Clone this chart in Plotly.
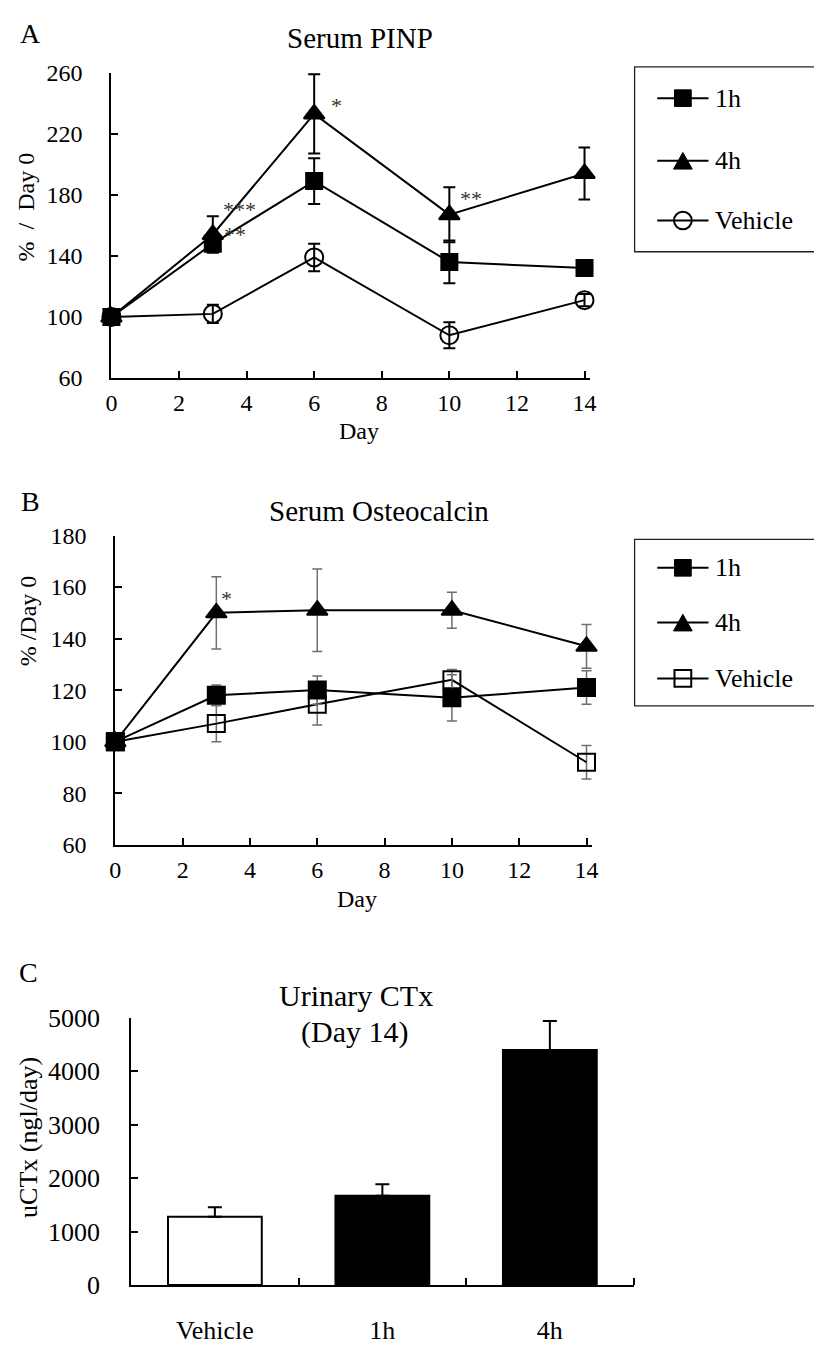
import plotly.graph_objects as go

W, H = 814, 1347
FONT = "Liberation Serif, Times New Roman, serif"

# ---- Panel A: serum PINP (% of day 0) ----
days = [0, 3, 6, 10, 14]
pinp_1h = [100, 148, 189, 136, 132]
pinp_1h_err = [0, 5, 15, 14, 3]
pinp_4h = [100, 154, 233, 167, 194]
pinp_4h_err = [0, 12, 26, 18, 17]
pinp_veh = [100, 102, 139, 88, 111]
pinp_veh_err = [0, 6, 9, 8.5, 4]

# ---- Panel B: serum osteocalcin (% of day 0) ----
oc_1h = [100, 118, 120, 117, 121]
oc_1h_err = [0, 4, 5.5, 9, 6.5]
oc_4h = [100, 150, 151, 151, 137]
oc_4h_err = [0, 14, 16, 7, 8.5]
oc_veh = [100, 107, 114.5, 124, 92]
oc_veh_err = [0, 7, 8, 4, 6.5]

# ---- Panel C: urinary CTx at day 14 ----
groups = ["Vehicle", "1h", "4h"]
uctx = [1280, 1670, 4400]
uctx_err = [175, 215, 540]

a_ticks = [60, 100, 140, 180, 220, 260]
b_ticks = [60, 80, 100, 120, 140, 160, 180]
c_ticks = [0, 1000, 2000, 3000, 4000, 5000]
day_ticks = [0, 2, 4, 6, 8, 10, 12, 14]


def px(x):
    return x / W


def py(y):
    return 1 - y / H


fig = go.Figure()


def line_trace(x, y, err, symbol, size, xa, ya, err_color, err_thick, err_w):
    return go.Scatter(
        x=x, y=y, mode="lines+markers", xaxis=xa, yaxis=ya,
        line=dict(color="black", width=2),
        marker=dict(symbol=symbol, size=size, color="black",
                    line=dict(color="black", width=2)),
        error_y=dict(type="data", array=err, visible=True, color=err_color,
                     thickness=err_thick, width=err_w),
        cliponaxis=False, showlegend=False,
    )


# Panel A series
fig.add_trace(line_trace(days, pinp_veh, pinp_veh_err, "circle-open", 18, "x", "y", "black", 2, 6))
fig.add_trace(line_trace(days, pinp_1h, pinp_1h_err, "square", 16, "x", "y", "black", 2, 6))
fig.add_trace(line_trace(days, pinp_4h, pinp_4h_err, "triangle-up", 18, "x", "y", "black", 2, 6))

# Panel B series
fig.add_trace(line_trace(days, oc_veh, oc_veh_err, "square-open", 17, "x2", "y2", "#6e6e6e", 1.5, 5))
fig.add_trace(line_trace(days, oc_1h, oc_1h_err, "square", 17, "x2", "y2", "#6e6e6e", 1.5, 5))
fig.add_trace(line_trace(days, oc_4h, oc_4h_err, "triangle-up", 18, "x2", "y2", "#6e6e6e", 1.5, 5))

# Panel C bars (positions by group index, labelled with the group names)
group_pos = list(range(len(groups)))
fig.add_trace(go.Bar(
    x=group_pos, y=uctx, xaxis="x3", yaxis="y3", width=0.56,
    marker=dict(color=["white", "black", "black"], line=dict(color="black", width=2)),
    error_y=dict(type="data", array=uctx_err, arrayminus=[0, 0, 0], symmetric=False,
                 color="black", thickness=2, width=7),
    showlegend=False,
))

axis_common = dict(
    showline=True, linecolor="black", linewidth=2, ticks="inside", ticklen=7,
    tickwidth=2, tickcolor="black", showgrid=False, zeroline=False,
    tickfont=dict(family=FONT, size=24, color="black"),
)
font_c = dict(family=FONT, size=26, color="black")
axis_c = {**axis_common, "tickfont": font_c}
axis_c_x = {**axis_c, "ticks": ""}

fig.update_layout(
    width=W, height=H, margin=dict(l=0, r=0, t=0, b=0),
    paper_bgcolor="white", plot_bgcolor="white",
    font=dict(family=FONT, color="black"),
    xaxis=dict(domain=[px(107), px(593)], range=[0, 14.17], tickvals=day_ticks,
               anchor="y", ticklabelstandoff=2, **axis_common),
    yaxis=dict(domain=[py(372), py(60)], range=[60, 260], tickvals=a_ticks,
               anchor="x", ticklabelstandoff=22, **axis_common),
    xaxis2=dict(domain=[px(111), px(595)], range=[0, 14.17], tickvals=day_ticks,
                anchor="y2", ticklabelstandoff=2, **axis_common),
    yaxis2=dict(domain=[py(849), py(533)], range=[60, 180], tickvals=b_ticks,
                anchor="x2", ticklabelstandoff=22, **axis_common),
    xaxis3=dict(domain=[px(127), px(637)], range=[-0.5, 2.5],
                tickvals=group_pos, ticktext=groups, anchor="y3",
                ticklabelstandoff=21,
                minor=dict(tickvals=[0.5, 1.5, 2.5], ticks="inside", ticklen=7,
                           tickwidth=2, tickcolor="black", showgrid=False),
                **axis_c_x),
    yaxis3=dict(domain=[py(1299), py(1026)], range=[0, 5000], tickvals=c_ticks,
                anchor="x3", ticklabelstandoff=24, **axis_c),
)

ann = []


def text_px(x, y, s, size, xanchor="center", **kw):
    ann.append(dict(x=px(x), y=py(y), xref="paper", yref="paper", text=s,
                    showarrow=False, xanchor=xanchor, yanchor="middle",
                    font=dict(family=FONT, size=size, color="black"), **kw))


# panel letters and titles
text_px(25, 20, "A", 28)
text_px(25, 498, "B", 28)
text_px(23, 980, "C", 28)
text_px(359, 25, "Serum PINP", 29)
text_px(379, 508, "Serum Osteocalcin", 29)
text_px(355, 1003, "Urinary CTx", 30)
text_px(354, 1040, "(Day 14)", 30)

# axis titles
text_px(358, 426, "Day", 24)
text_px(356, 904, "Day", 24)
text_px(20, 197, "%  /  Day 0", 24, textangle=-90)
text_px(22, 620, "% /Day 0", 24, textangle=-90)
text_px(23, 1148, "uCTx (ngl/day)", 26, textangle=-90)

# significance marks
sig_a = [(6.65, 241, "*"), (3.79, 172.8, "***"), (3.65, 156.3, "**"),
         (10.65, 180, "**"), (14.75, 203.6, "***")]
sig_b = [(3.31, 157, "*"), (14.67, 140.8, "**"), (14.6, 121.8, "*")]
for x, y, s in sig_a:
    ann.append(dict(x=x, y=y, xref="x", yref="y", text=s, showarrow=False, yshift=-4,
                    xanchor="center", yanchor="middle",
                    font=dict(family=FONT, size=22, color="#333333")))
for x, y, s in sig_b:
    ann.append(dict(x=x, y=y, xref="x2", yref="y2", text=s, showarrow=False, yshift=-4,
                    xanchor="center", yanchor="middle",
                    font=dict(family=FONT, size=22, color="#333333")))
ann.append(dict(x=2, y=5195, xref="x3", yref="y3", text="***", showarrow=False, yshift=-4,
                xanchor="center", yanchor="middle",
                font=dict(family=FONT, size=26, color="#333333")))

# legends (drawn as layout shapes + text)
shapes = []


def legend_box(y0, y1):
    shapes.append(dict(type="rect", xref="paper", yref="paper", x0=px(638), x1=px(822),
                       y0=py(y1), y1=py(y0), line=dict(color="#222222", width=1.3)))


def legend_entry(y, kind, label, size=17):
    shapes.append(dict(type="line", xref="paper", yref="paper", x0=px(661), x1=px(713),
                       y0=py(y), y1=py(y), line=dict(color="black", width=2)))
    cx, h = 687, size / 2
    if kind == "square":
        shapes.append(dict(type="rect", xref="paper", yref="paper", x0=px(cx - h), x1=px(cx + h),
                           y0=py(y + h), y1=py(y - h), fillcolor="black", line=dict(color="black", width=1)))
    elif kind == "square-open":
        shapes.append(dict(type="rect", xref="paper", yref="paper", x0=px(cx - h), x1=px(cx + h),
                           y0=py(y + h), y1=py(y - h), line=dict(color="black", width=2)))
    elif kind == "circle-open":
        shapes.append(dict(type="circle", xref="paper", yref="paper", x0=px(cx - h), x1=px(cx + h),
                           y0=py(y + h), y1=py(y - h), line=dict(color="black", width=2)))
    elif kind == "triangle":
        path = "M {} {} L {} {} L {} {} Z".format(px(cx - h - 1), py(y + h), px(cx + h + 1), py(y + h),
                                                  px(cx), py(y - h))
        shapes.append(dict(type="path", xref="paper", yref="paper", path=path, fillcolor="black",
                           line=dict(color="black", width=1)))
    text_px(718, y, label, 26, xanchor="left")


legend_box(54, 243)
legend_entry(86, "square", "1h")
legend_entry(150, "triangle", "4h")
legend_entry(211, "circle-open", "Vehicle", 18)

legend_box(537, 707)
legend_entry(566, "square", "1h")
legend_entry(622, "triangle", "4h")
legend_entry(679, "square-open", "Vehicle")

fig.update_layout(annotations=ann, shapes=shapes)

fig.write_html("out.html")
